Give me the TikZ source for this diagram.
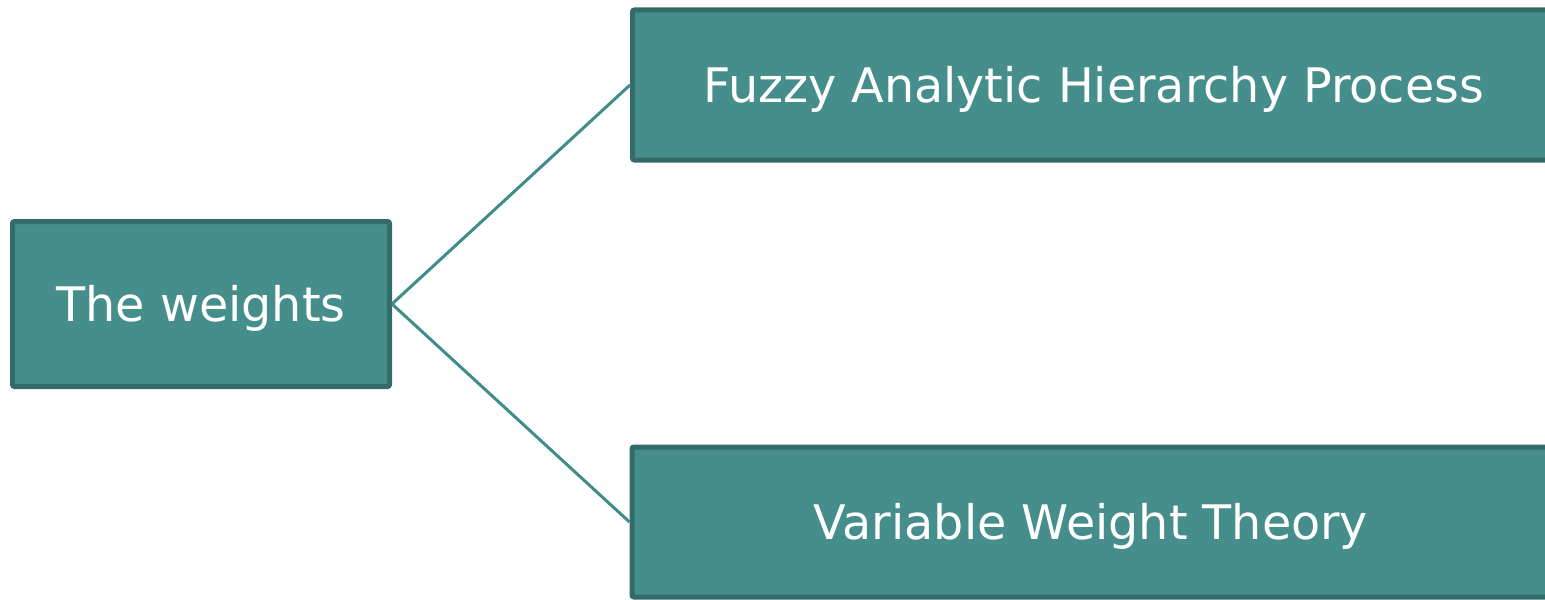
\documentclass[tikz,border=0pt]{standalone}
\usepackage{fontspec}
\setmainfont{DejaVu Sans}
\definecolor{boxfill}{HTML}{468E8B}
\definecolor{boxline}{HTML}{326B68}
\definecolor{linkcol}{HTML}{3F8C89}
\tikzset{
  topic/.style={draw=boxline, fill=boxfill, line width=2.5pt, rounded corners=1pt,
    text=white, font=\fontsize{23.8pt}{28pt}\selectfont, inner sep=0pt,
    text height=17.35pt, text depth=0pt, anchor=center},
  link/.style={draw=linkcol, line width=1.5pt}
}
\begin{document}
\begin{tikzpicture}[x=0.5pt,y=-0.5pt]
  \useasboundingbox (0,0) rectangle (1545,599);
  \clip (0,0) rectangle (1545,599);
  % root box
  \node[topic, minimum width=188.5pt, minimum height=82.5pt] (root) at (201,304) {The weights};
  % branch boxes (they run past the right edge)
  \node[topic, minimum width=461pt, minimum height=75pt] (fahp) at (1093.5,85) {Fuzzy Analytic Hierarchy Process};
  \node[topic, minimum width=459pt, minimum height=75pt] (vwt) at (1091,522) {Variable Weight Theory};
  % connectors
  \draw[link] (root.east) -- (fahp.west);
  \draw[link] (root.east) -- (vwt.west);
\end{tikzpicture}
\end{document}
